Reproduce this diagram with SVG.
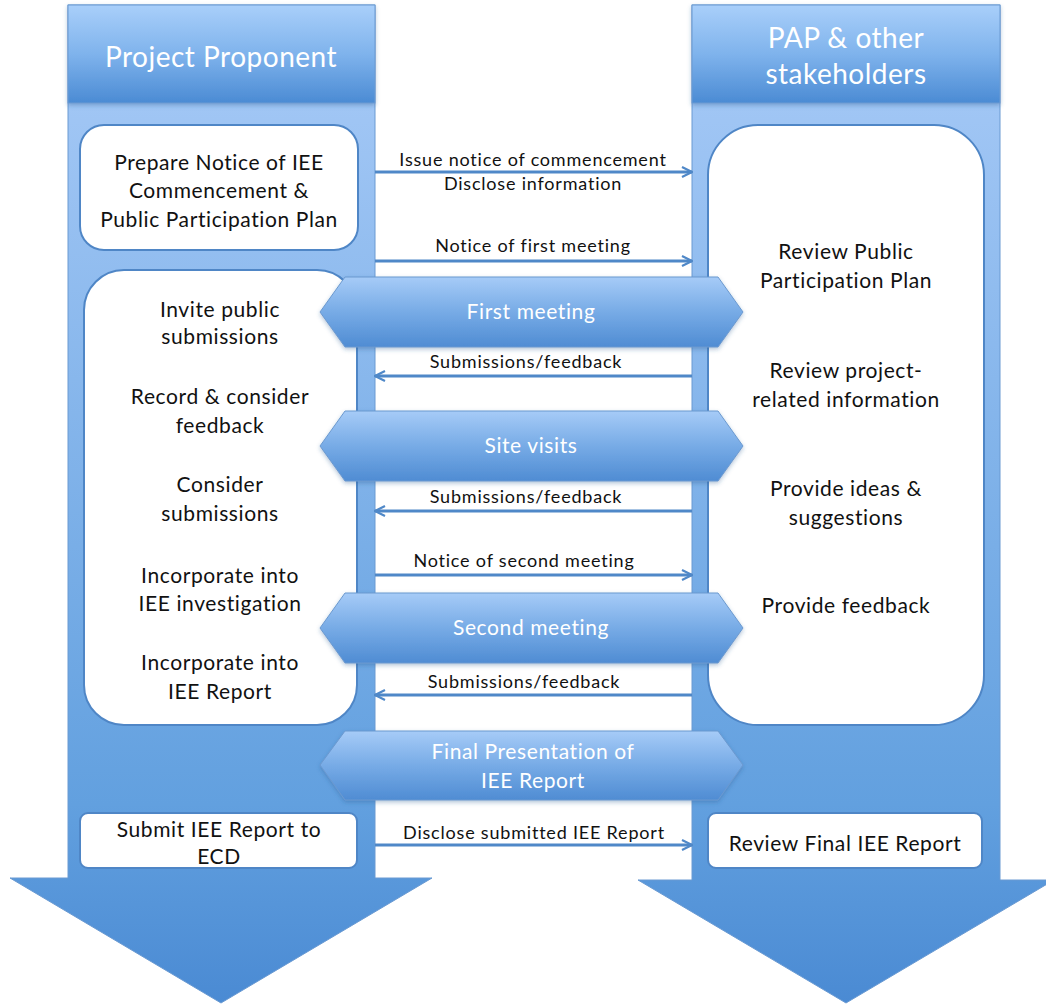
<svg xmlns="http://www.w3.org/2000/svg" width="1046" height="1005" viewBox="0 0 1046 1005">
<defs>
<linearGradient id="colg" x1="0" y1="0" x2="0" y2="1005" gradientUnits="userSpaceOnUse">
<stop offset="0" stop-color="#a8cdf8"/>
<stop offset="0.12" stop-color="#9fc5f4"/>
<stop offset="0.8" stop-color="#62a0df"/>
<stop offset="1" stop-color="#4a8ad3"/>
</linearGradient>
<linearGradient id="hdrg" x1="0" y1="0" x2="0" y2="1">
<stop offset="0" stop-color="#a9cffa"/>
<stop offset="0.5" stop-color="#7fb3ec"/>
<stop offset="1" stop-color="#4b8bd4"/>
</linearGradient>
<linearGradient id="bang" x1="0" y1="0" x2="0" y2="1">
<stop offset="0" stop-color="#a6cbf7"/>
<stop offset="0.5" stop-color="#77abe6"/>
<stop offset="1" stop-color="#4f8cd3"/>
</linearGradient>
<marker id="ah" viewBox="0 0 12 12" refX="11" refY="6" markerWidth="12" markerHeight="12" markerUnits="userSpaceOnUse" orient="auto">
<path d="M1,1 L11,6 L1,11" fill="none" stroke="#4f88c8" stroke-width="2.2"/>
</marker>
<filter id="sh" x="-5%" y="-5%" width="110%" height="120%">
<feDropShadow dx="0" dy="2" stdDeviation="2" flood-color="#2a5a90" flood-opacity="0.35"/>
</filter>
</defs>
<style>
.col{fill:url(#colg);stroke:#6a9ad2;stroke-width:1}
.hdr{fill:url(#hdrg);stroke:#6a9ad2;stroke-width:1}
.box{fill:#fff;stroke:#4f86c6;stroke-width:2}
.ban{fill:url(#bang);stroke:#6b99d0;stroke-width:1}
.t{font-family:Lato,"Liberation Sans",sans-serif;fill:#111;text-anchor:middle}
.bt{font-size:21px;letter-spacing:0.6px}
.wt{fill:#fff;font-size:21px;letter-spacing:0.6px}
.ht{fill:#fff;font-size:28px;letter-spacing:0.5px}
.lt{font-size:18px;letter-spacing:0.8px}
.cn{stroke:#4f88c8;stroke-width:3;fill:none;marker-end:url(#ah)}
</style>
<g id="lane-left">
<path class="col" d="M68,5 H375 V878 H432 L221,1003 L10,878 H68 Z"/>
<rect class="hdr" x="68" y="5" width="307" height="98" filter="url(#sh)"/>
<text class="t ht" x="221" y="67">Project Proponent</text>
</g>
<g id="lane-right">
<path class="col" d="M692,5 H1000 V880 H1054 L846,1003 L638,880 H692 Z"/>
<rect class="hdr" x="692" y="5" width="308" height="98" filter="url(#sh)"/>
<text class="t ht" x="846" y="48">PAP &amp; other</text>
<text class="t ht" x="846" y="84">stakeholders</text>
</g>
<g id="node-prepare">
<rect class="box" x="80" y="125" width="278" height="125" rx="24"/>
<text class="t bt" x="219" y="170">Prepare Notice of IEE</text>
<text class="t bt" x="219" y="198">Commencement &amp;</text>
<text class="t bt" x="219" y="227">Public Participation Plan</text>
</g>
<g id="node-proponent-tasks">
<rect class="box" x="84" y="270" width="273" height="455" rx="40"/>
<text class="t bt" x="220" y="317">Invite public</text>
<text class="t bt" x="220" y="344">submissions</text>
<text class="t bt" x="220" y="404">Record &amp; consider</text>
<text class="t bt" x="220" y="433">feedback</text>
<text class="t bt" x="220" y="492">Consider</text>
<text class="t bt" x="220" y="521">submissions</text>
<text class="t bt" x="220" y="583">Incorporate into</text>
<text class="t bt" x="220" y="611">IEE investigation</text>
<text class="t bt" x="220" y="670">Incorporate into</text>
<text class="t bt" x="220" y="699">IEE Report</text>
</g>
<g id="node-stakeholder-tasks">
<rect class="box" x="708" y="125" width="276" height="600" rx="50"/>
<text class="t bt" x="846" y="259">Review Public</text>
<text class="t bt" x="846" y="288">Participation Plan</text>
<text class="t bt" x="846" y="378">Review project-</text>
<text class="t bt" x="846" y="407">related information</text>
<text class="t bt" x="846" y="496">Provide ideas &amp;</text>
<text class="t bt" x="846" y="525">suggestions</text>
<text class="t bt" x="846" y="613">Provide feedback</text>
</g>
<g id="node-submit">
<rect class="box" x="80" y="813" width="277" height="55" rx="8"/>
<text class="t bt" x="219" y="837">Submit IEE Report to</text>
<text class="t bt" x="219" y="864">ECD</text>
</g>
<g id="node-review-final">
<rect class="box" x="708" y="813" width="274" height="55" rx="8"/>
<text class="t bt" x="845" y="851">Review Final IEE Report</text>
</g>
<g id="banner-first">
<path class="ban" d="M345,277 H718 L743,312 L718,347 H345 L320,312 Z" filter="url(#sh)"/>
<text class="t wt" x="531" y="319">First meeting</text>
</g>
<g id="banner-site">
<path class="ban" d="M345,411 H718 L743,446 L718,481 H345 L320,446 Z" filter="url(#sh)"/>
<text class="t wt" x="531" y="453">Site visits</text>
</g>
<g id="banner-second">
<path class="ban" d="M345,593 H718 L743,628 L718,663 H345 L320,628 Z" filter="url(#sh)"/>
<text class="t wt" x="531" y="635">Second meeting</text>
</g>
<g id="banner-final">
<path class="ban" d="M345,731 H718 L743,765 L718,800 H345 L320,765 Z" filter="url(#sh)"/>
<text class="t wt" x="533" y="759">Final Presentation of</text>
<text class="t wt" x="533" y="788">IEE Report</text>
</g>
<g id="connectors">
<line class="cn" x1="375" y1="172" x2="692" y2="172"/>
<text class="t lt" x="533" y="166">Issue notice of commencement</text>
<text class="t lt" x="533" y="190">Disclose information</text>
<line class="cn" x1="375" y1="261" x2="692" y2="261"/>
<text class="t lt" x="533" y="252">Notice of first meeting</text>
<line class="cn" x1="692" y1="376" x2="375" y2="376"/>
<text class="t lt" x="526" y="368">Submissions/feedback</text>
<line class="cn" x1="692" y1="511" x2="375" y2="511"/>
<text class="t lt" x="526" y="503">Submissions/feedback</text>
<line class="cn" x1="375" y1="575" x2="692" y2="575"/>
<text class="t lt" x="524" y="567">Notice of second meeting</text>
<line class="cn" x1="692" y1="695" x2="375" y2="695"/>
<text class="t lt" x="524" y="688">Submissions/feedback</text>
<line class="cn" x1="375" y1="845" x2="692" y2="845"/>
<text class="t lt" x="534" y="839">Disclose submitted IEE Report</text>
</g>
</svg>
